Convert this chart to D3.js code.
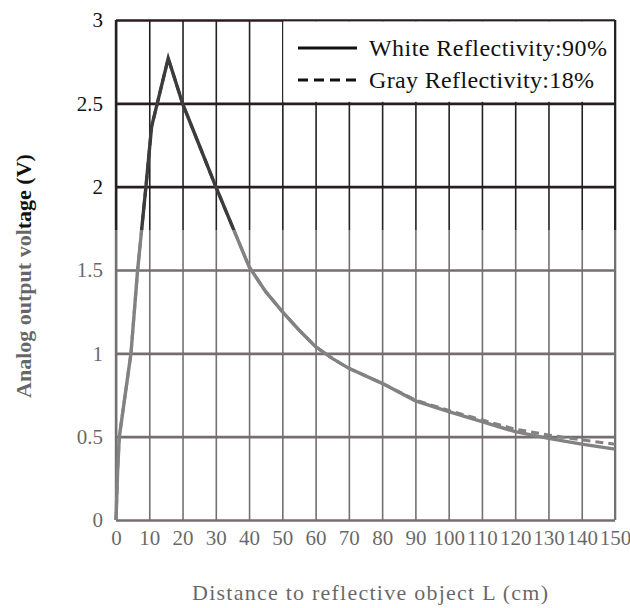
<!DOCTYPE html>
<html>
<head>
<meta charset="utf-8">
<script src="https://cdn.jsdelivr.net/npm/d3@7"></script>
<style>
  body { margin: 0; background: #fff; }
  svg { display: block; font-family: "Liberation Serif", "Times New Roman", serif; }
</style>
</head>
<body>
<svg id="chart" width="630" height="608"></svg>
<script>
// distance (cm) and output voltage (V)
const whiteDist = [0, 0.5, 1, 4.5, 6.5, 9, 10.7, 15.7, 20, 25, 30, 35, 40, 45, 50, 55, 60, 65, 70, 80, 90, 100, 110, 120, 130, 140, 150];
const whiteVolt = [0, 0.3, 0.5, 1.0, 1.5, 2.0, 2.36, 2.77, 2.5, 2.25, 2.0, 1.76, 1.52, 1.37, 1.25, 1.14, 1.04, 0.97, 0.91, 0.82, 0.715, 0.65, 0.59, 0.53, 0.49, 0.455, 0.425];
const grayDist = [0, 0.5, 1, 4.5, 6.5, 9, 10.7, 15.7, 20, 25, 30, 35, 40, 45, 50, 55, 60, 65, 70, 80, 90, 100, 110, 120, 130, 140, 150];
const grayVolt = [0, 0.3, 0.5, 1.0, 1.5, 2.0, 2.36, 2.77, 2.5, 2.25, 2.0, 1.76, 1.52, 1.37, 1.25, 1.14, 1.04, 0.97, 0.91, 0.82, 0.72, 0.657, 0.60, 0.545, 0.51, 0.48, 0.455];
const xTicks = d3.range(0, 151, 10);
const yTicks = [0, 0.5, 1, 1.5, 2, 2.5, 3];
const legendLabels = ["White Reflectivity:90%", "Gray Reflectivity:18%"];
const xTitle = "Distance to reflective object L (cm)";
const yTitle = "Analog output voltage (V)";

const svg = d3.select("#chart");
const x = d3.scaleLinear().domain([0, 150]).range([116, 615]);
const y = d3.scaleLinear().domain([0, 3]).range([520, 20]);

// vertical grid
svg.append("g")
  .attr("transform", `translate(0,${y(0)})`)
  .call(d3.axisBottom(x).tickValues(xTicks).tickSize(-(y(0) - y(3))).tickFormat(""))
  .call(g => g.select(".domain").remove())
  .call(g => g.selectAll("line").attr("stroke", "#222").attr("stroke-width", 1.6));

// horizontal grid
svg.append("g")
  .attr("transform", `translate(${x(0)},0)`)
  .call(d3.axisLeft(y).tickValues(yTicks).tickSize(-(x(150) - x(0))).tickFormat(""))
  .call(g => g.select(".domain").remove())
  .call(g => g.selectAll("line").attr("stroke", "#2a1c22").attr("stroke-width", 2.6));

// frame edges a bit heavier
svg.append("line").attr("x1", x(0)).attr("x2", x(0)).attr("y1", y(0)).attr("y2", y(3))
  .attr("stroke", "#222").attr("stroke-width", 2.4);
svg.append("line").attr("x1", x(150)).attr("x2", x(150)).attr("y1", y(0)).attr("y2", y(3))
  .attr("stroke", "#222").attr("stroke-width", 2);

// legend box covers the grid in the upper right cell block
svg.append("rect")
  .attr("x", x(50) + 1).attr("y", y(3) + 1.5)
  .attr("width", x(150) - x(50) - 2).attr("height", y(2.5) - y(3) - 3)
  .attr("fill", "#fff");

const line = d3.line().x(d => x(d[0])).y(d => y(d[1]));

svg.append("path")
  .datum(d3.zip(grayDist, grayVolt))
  .attr("d", line)
  .attr("fill", "none").attr("stroke", "#3c3c3c").attr("stroke-width", 3)
  .attr("stroke-dasharray", "8,5");

svg.append("path")
  .datum(d3.zip(whiteDist, whiteVolt))
  .attr("d", line)
  .attr("fill", "none").attr("stroke", "#3c3c3c").attr("stroke-width", 3.4)
  .attr("stroke-linejoin", "miter");

// legend
const leg = svg.append("g");
legendLabels.forEach((t, i) => {
  const ly = 48 + i * 32;
  leg.append("line")
    .attr("x1", 298).attr("x2", 357).attr("y1", ly).attr("y2", ly)
    .attr("stroke", "#111").attr("stroke-width", 3.2)
    .attr("stroke-dasharray", i ? "10,6" : null);
  leg.append("text")
    .attr("x", 369).attr("y", ly + 8)
    .attr("font-size", 24).attr("fill", "#111")
    .attr("textLength", i ? 225 : 238).attr("lengthAdjust", "spacing")
    .text(t);
});

// tick labels
svg.append("g")
  .attr("transform", `translate(0,${y(0)})`)
  .call(d3.axisBottom(x).tickValues(xTicks).tickSize(0).tickPadding(10))
  .call(g => g.select(".domain").remove())
  .call(g => g.selectAll("text").attr("font-size", 21).attr("font-family", "Liberation Serif").attr("fill", "#111"));

svg.append("g")
  .attr("transform", `translate(${x(0)},0)`)
  .call(d3.axisLeft(y).tickValues(yTicks).tickSize(0).tickPadding(13).tickFormat(d3.format("")))
  .call(g => g.select(".domain").remove())
  .call(g => g.selectAll("text").attr("font-size", 21).attr("font-family", "Liberation Serif").attr("fill", "#111"));

// axis titles
svg.append("text")
  .attr("x", 192).attr("y", 600)
  .attr("font-size", 22).attr("fill", "#111")
  .attr("textLength", 356).attr("lengthAdjust", "spacing")
  .text(xTitle);

svg.append("text")
  .attr("transform", "translate(31,276) rotate(-90)")
  .attr("text-anchor", "middle").attr("font-size", 22).attr("font-weight", "bold").attr("fill", "#111")
  .text(yTitle);

// the scan is lighter below this line
svg.append("rect")
  .attr("x", 0).attr("y", 230).attr("width", 630).attr("height", 378)
  .attr("fill", "#fff").attr("fill-opacity", 0.36);
</script>
</body>
</html>
